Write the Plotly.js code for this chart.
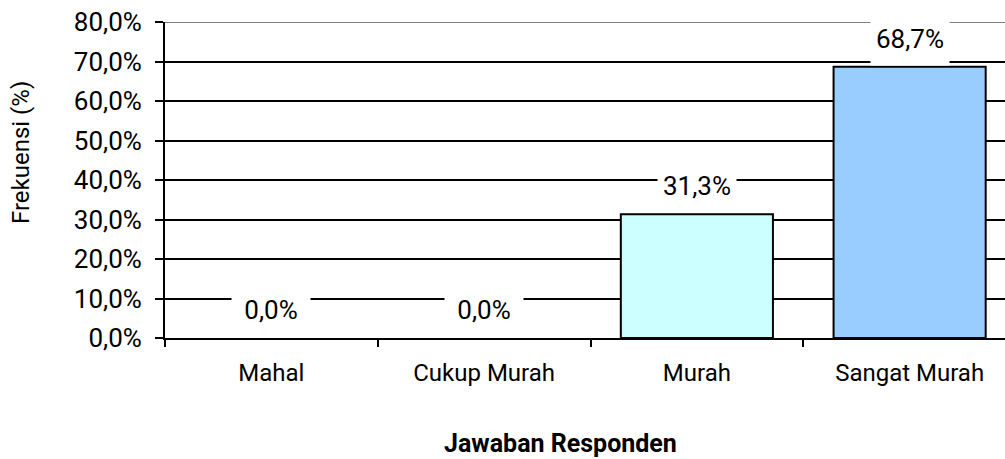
<!DOCTYPE html>
<html>
<head>
<meta charset="utf-8">
<script src="https://cdn.plot.ly/plotly-3.0.1.min.js"></script>
<style>
html, body { margin: 0; padding: 0; overflow: hidden; background: #fff; }
#chart { width: 1016px; height: 459px; }
</style>
</head>
<body>
<div id="chart"></div>
<script>
// ---- data ----
var categories = ["Mahal", "Cukup Murah", "Murah", "Sangat Murah"];
var values = [0.0, 0.0, 31.3, 68.7];
var barColors = ["#CCFFFF", "#CCFFFF", "#CCFFFF", "#99CCFF"];
var yTickVals = [0, 10, 20, 30, 40, 50, 60, 70, 80];
var yTickText = ["0,0%", "10,0%", "20,0%", "30,0%", "40,0%", "50,0%", "60,0%", "70,0%", "80,0%"];
var yTitle = "Frekuensi (%)";
var xTitle = "Jawaban Responden";

function fmt(v) { return v.toFixed(1).replace('.', ',') + '%'; }

var FONT = "Roboto, 'Open Sans', sans-serif";

var trace = {
  type: 'bar',
  x: categories,
  y: values,
  width: 0.715,
  marker: {
    color: barColors,
    line: { color: '#000', width: values.map(function (v) { return v > 0 ? 2 : 0; }) }
  },
  hoverinfo: 'skip'
};

var annotations = categories.map(function (c, i) {
  return {
    x: c, y: values[i], xref: 'x', yref: 'y',
    text: fmt(values[i]), showarrow: false,
    yshift: 28, xanchor: 'center', yanchor: 'middle',
    bgcolor: '#ffffff', width: 70, height: 44, borderpad: 4,
    font: { family: FONT, size: 26, color: '#000' }
  };
});

annotations.push({
  xref: 'paper', yref: 'paper', x: -0.1692, y: 0.5854,
  text: yTitle, textangle: -90, showarrow: false,
  xanchor: 'center', yanchor: 'middle',
  font: { family: FONT, size: 24, color: '#000' }
});
annotations.push({
  xref: 'paper', yref: 'paper', x: 0.4653, y: -0.335,
  text: '<b>' + xTitle + '</b>', showarrow: false,
  xanchor: 'center', yanchor: 'middle',
  font: { family: FONT, size: 25, color: '#000' }
});

var yMax = yTickVals[yTickVals.length - 1];

var layout = {
  width: 1016, height: 459,
  margin: { l: 165, r: 0, t: 22, b: 121 },
  paper_bgcolor: '#fff', plot_bgcolor: '#fff',
  showlegend: false,
  font: { family: FONT, size: 24, color: '#000' },
  xaxis: {
    type: 'category',
    showline: true, linecolor: '#000', linewidth: 2,
    ticks: 'outside', ticklen: 7, tickwidth: 2, tickcolor: '#000',
    tickson: 'boundaries',
    showgrid: false, zeroline: false,
    ticklabelstandoff: 12,
    tickfont: { family: FONT, size: 24, color: '#000' },
    fixedrange: true
  },
  yaxis: {
    range: [0, yMax],
    tickmode: 'array', tickvals: yTickVals, ticktext: yTickText,
    showline: true, linecolor: '#000', linewidth: 2,
    ticks: 'outside', ticklen: 8, tickwidth: 2, tickcolor: '#000',
    showgrid: true, gridcolor: '#000', gridwidth: 2,
    zeroline: false,
    ticklabelstandoff: 8,
    tickfont: { family: FONT, size: 26, color: '#000' },
    fixedrange: true
  },
  shapes: [{
    type: 'line', xref: 'paper', yref: 'y',
    x0: 0, x1: 1, y0: yMax, y1: yMax,
    line: { color: '#808080', width: 2 }, layer: 'above'
  }],
  annotations: annotations
};

Plotly.newPlot('chart', [trace], layout, { displayModeBar: false, staticPlot: true });
</script>
</body>
</html>
